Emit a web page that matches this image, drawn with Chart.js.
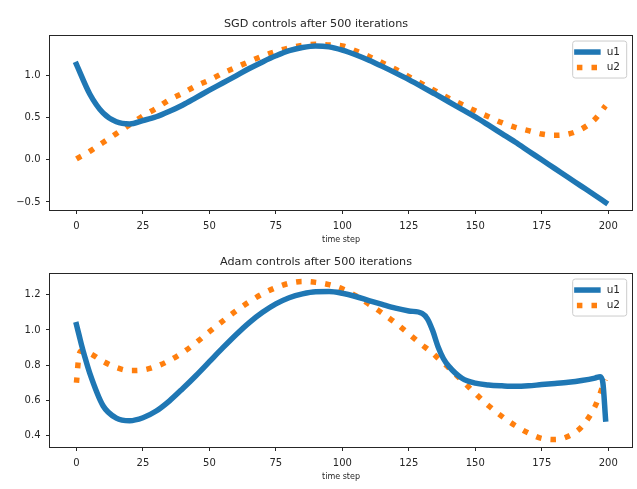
<!DOCTYPE html>
<html><head><meta charset="utf-8">
<script src="https://cdn.jsdelivr.net/npm/chart.js@4"></script>
<style>
html,body{margin:0;padding:0;background:#fff;}
#wrap{position:relative;width:637px;height:489px;background:#fff;}
.c{position:absolute;left:0;width:637px;}
</style></head><body>
<div id="wrap">
<div class="c" style="top:0;height:245px"><canvas id="c1" width="637" height="245"></canvas></div>
<div class="c" style="top:245px;height:244px"><canvas id="c2" width="637" height="244"></canvas></div>
</div>
<script>
// ---- data ----
const seriesLabels = ['u1', 'u2'];
const titles = ['SGD controls after 500 iterations', 'Adam controls after 500 iterations'];
const xLabel = 'time step';
const xTicks = [0, 25, 50, 75, 100, 125, 150, 175, 200];
const sgdYTicks = [-0.5, 0.0, 0.5, 1.0];
const adamYTicks = [0.4, 0.6, 0.8, 1.0, 1.2];

const sgdSteps = [0,5,10,15,20,25,30,35,40,45,50,55,60,65,70,75,80,85,90,95,100,105,110,115,120,125,130,135,140,145,150,155,160,165,170,175,180,185,190,195,199];
const sgdU1 = [1.13,0.78,0.555,0.45,0.425,0.465,0.51,0.575,0.65,0.737,0.825,0.91,0.995,1.082,1.16,1.232,1.293,1.33,1.348,1.338,1.30,1.245,1.18,1.107,1.03,0.95,0.865,0.777,0.688,0.598,0.508,0.41,0.31,0.21,0.105,0.0,-0.105,-0.21,-0.315,-0.42,-0.505];
const sgdU2 = [0.01,0.10,0.205,0.31,0.415,0.52,0.61,0.712,0.79,0.875,0.945,1.025,1.095,1.165,1.23,1.284,1.326,1.355,1.368,1.36,1.35,1.29,1.225,1.15,1.073,0.985,0.90,0.815,0.73,0.655,0.58,0.51,0.44,0.385,0.345,0.305,0.29,0.305,0.365,0.48,0.64];

const adamSteps = [0,1,2,3,5,10,15,20,25,30,35,40,45,50,55,60,65,70,75,80,85,90,95,100,105,110,115,120,125,130,132,134,136,138,140,145,150,155,160,165,170,175,180,185,190,195,197,198,199];
const adamU1 = [1.03,0.97,0.91,0.855,0.755,0.57,0.50,0.485,0.502,0.54,0.598,0.668,0.742,0.82,0.898,0.973,1.042,1.10,1.148,1.183,1.205,1.217,1.218,1.208,1.19,1.167,1.145,1.124,1.108,1.094,1.063,0.995,0.905,0.838,0.795,0.726,0.698,0.688,0.683,0.680,0.683,0.69,0.696,0.703,0.713,0.727,0.735,0.70,0.495];
const adamU2 = [0.70,0.86,0.88,0.879,0.868,0.822,0.787,0.77,0.773,0.793,0.827,0.872,0.928,0.99,1.05,1.108,1.16,1.205,1.24,1.265,1.275,1.27,1.257,1.233,1.195,1.146,1.096,1.04,0.978,0.915,0.892,0.868,0.84,0.813,0.786,0.713,0.64,0.57,0.51,0.458,0.415,0.385,0.378,0.397,0.45,0.565,0.64,0.685,0.72];

// ---- style ----
const BLUE = '#1f77b4', ORANGE = '#ff7f0e', INK = '#262626';
Chart.defaults.font.family = '"DejaVu Sans", sans-serif';

const frameLegend = {
  id: 'frameLegend',
  afterDraw(chart) {
    const ctx = chart.ctx, a = chart.chartArea;
    ctx.save();
    ctx.setLineDash([]);
    ctx.strokeStyle = INK; ctx.lineWidth = 1;
    ctx.strokeRect(Math.round(a.left) - 0.5, Math.round(a.top) - 0.5,
                   Math.round(a.right - a.left) + 1, Math.round(a.bottom - a.top) + 1);
    // legend
    const right = a.right - 5.3, top = a.top + 5.3, w = 54, h = 37;
    const L = right - w, r = 2.5;
    ctx.beginPath();
    ctx.moveTo(L + r, top); ctx.lineTo(right - r, top); ctx.quadraticCurveTo(right, top, right, top + r);
    ctx.lineTo(right, top + h - r); ctx.quadraticCurveTo(right, top + h, right - r, top + h);
    ctx.lineTo(L + r, top + h); ctx.quadraticCurveTo(L, top + h, L, top + h - r);
    ctx.lineTo(L, top + r); ctx.quadraticCurveTo(L, top, L + r, top);
    ctx.closePath();
    ctx.fillStyle = 'rgba(255,255,255,0.8)'; ctx.fill();
    ctx.strokeStyle = '#cccccc'; ctx.lineWidth = 1; ctx.stroke();
    chart.data.datasets.forEach((ds, i) => {
      const y = top + 11 + i * 15.5;
      ctx.beginPath();
      ctx.setLineDash(ds.borderDash || []);
      ctx.lineDashOffset = 0;
      ctx.lineCap = ds.borderCapStyle; ctx.lineWidth = ds.borderWidth; ctx.strokeStyle = ds.borderColor;
      ctx.moveTo(L + 4.2, y); ctx.lineTo(L + 25.2, y); ctx.stroke();
      ctx.setLineDash([]);
      ctx.fillStyle = INK; ctx.font = '10.5px "DejaVu Sans"';
      ctx.textBaseline = 'middle'; ctx.textAlign = 'left';
      ctx.fillText(ds.label, L + 34, y);
    });
    ctx.restore();
  }
};

function fmtY(v) { return Number(v).toFixed(1).replace('-', '\u2212'); }

function makeChart(id, steps, u1, u2, yMin, yMax, yTicks, title, titlePad, xHeight, xTitlePadBottom) {
  const pts = arr => steps.map((s, i) => ({ x: s, y: arr[i] }));
  return new Chart(document.getElementById(id), {
    type: 'line',
    data: {
      datasets: [
        { label: seriesLabels[0], data: pts(u1), borderColor: BLUE, backgroundColor: BLUE,
          borderWidth: 5.5, pointRadius: 0, borderCapStyle: 'square', borderJoinStyle: 'round',
          cubicInterpolationMode: 'monotone', fill: false },
        { label: seriesLabels[1], data: pts(u2), borderColor: ORANGE, backgroundColor: ORANGE,
          borderWidth: 5.5, pointRadius: 0, borderCapStyle: 'butt', borderDash: [5.5, 9.1],
          cubicInterpolationMode: 'monotone', fill: false }
      ]
    },
    options: {
      responsive: false, animation: false, devicePixelRatio: 1,
      layout: { padding: { left: 0, right: 5, top: 0, bottom: 0 } },
      plugins: {
        legend: { display: false }, tooltip: { enabled: false },
        title: { display: true, text: title, color: INK, font: { size: 11.2, weight: 'normal' },
                 padding: titlePad }
      },
      scales: {
        x: {
          type: 'linear', min: -9.95, max: 208.95,
          afterBuildTicks: s => { s.ticks = xTicks.map(v => ({ value: v })); },
          afterFit: s => { s.height = xHeight; },
          ticks: { autoSkip: false, maxRotation: 0, padding: 6, color: INK, font: { size: 10 },
                   callback: v => String(v) },
          grid: { display: true, drawOnChartArea: false, drawTicks: true, tickLength: 4, color: INK, tickWidth: 1 },
          border: { display: false },
          title: { display: true, text: xLabel, color: INK, font: { size: 8 },
                   padding: { top: 0, bottom: xTitlePadBottom } }
        },
        y: {
          type: 'linear', min: yMin, max: yMax,
          afterBuildTicks: s => { s.ticks = yTicks.map(v => ({ value: v })); },
          afterFit: s => { s.width = 50; },
          ticks: { autoSkip: false, padding: 5.5, color: INK, font: { size: 10 }, callback: v => fmtY(v) },
          grid: { display: true, drawOnChartArea: false, drawTicks: true, tickLength: 4, color: INK, tickWidth: 1 },
          border: { display: false }
        }
      }
    },
    plugins: [frameLegend]
  });
}

makeChart('c1', sgdSteps, sgdU1, sgdU2, -0.595, 1.47, sgdYTicks, titles[0],
          { top: 17.2, bottom: 5.1 }, 35, 0.2);
makeChart('c2', adamSteps, adamU1, adamU2, 0.336, 1.319, adamYTicks, titles[1],
          { top: 9.9, bottom: 5.4 }, 42, 7.2);
</script>
</body></html>
